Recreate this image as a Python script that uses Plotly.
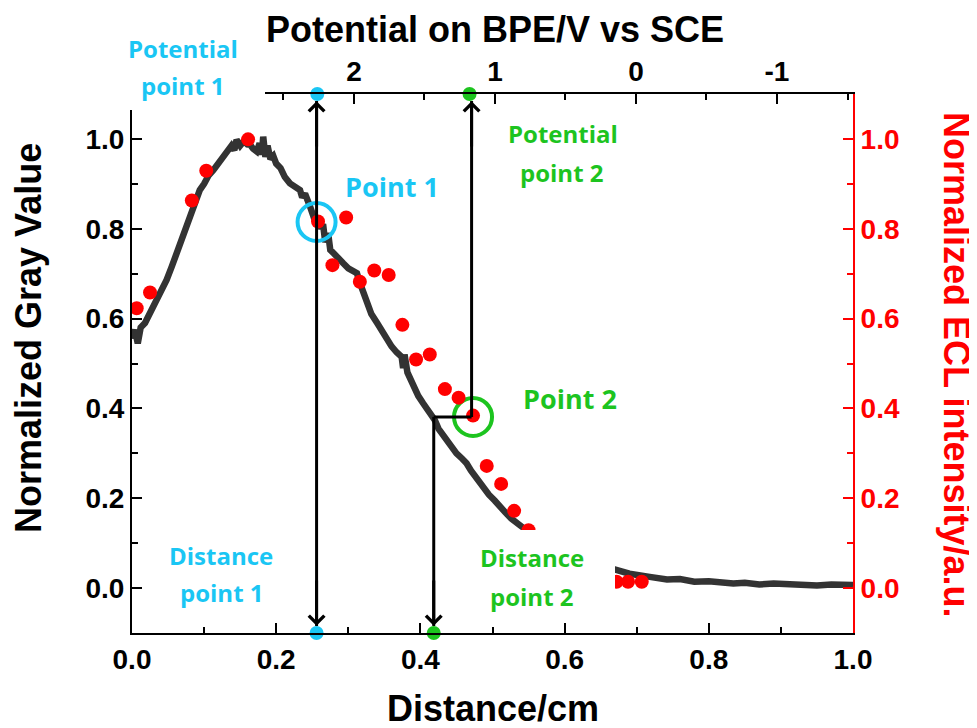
import plotly.graph_objects as go

# ---------------- data ----------------
DIST = [0.000, 0.004, 0.008, 0.012, 0.018, 0.025, 0.032, 0.040, 0.048, 0.055,
        0.062, 0.071, 0.078, 0.085, 0.094, 0.100, 0.106, 0.113, 0.120, 0.126,
        0.131, 0.138, 0.142, 0.145, 0.150, 0.155, 0.160, 0.164, 0.168, 0.173,
        0.177, 0.180, 0.182, 0.185, 0.188, 0.192, 0.196, 0.200, 0.206, 0.212,
        0.219, 0.226, 0.233, 0.236, 0.240, 0.247, 0.252, 0.255, 0.258, 0.262,
        0.265, 0.268, 0.272, 0.275, 0.280, 0.285, 0.293, 0.300, 0.306, 0.312,
        0.316, 0.320, 0.325, 0.332, 0.340, 0.347, 0.353, 0.360, 0.367, 0.374,
        0.376, 0.378, 0.382, 0.390, 0.397, 0.404, 0.412, 0.420, 0.425, 0.432,
        0.441, 0.450, 0.458, 0.464, 0.470, 0.476, 0.480, 0.487, 0.495, 0.503,
        0.510, 0.518, 0.526, 0.534, 0.542, 0.552, 0.575, 0.600, 0.630, 0.650,
        0.668, 0.672, 0.690, 0.718, 0.742, 0.760, 0.780, 0.800, 0.816, 0.834,
        0.850, 0.870, 0.890, 0.910, 0.930, 0.950, 0.970, 0.990, 1.000]
GRAY = [0.555, 0.575, 0.545, 0.580, 0.590, 0.612, 0.630, 0.660, 0.686, 0.715,
        0.745, 0.782, 0.810, 0.845, 0.886, 0.900, 0.918, 0.931, 0.945, 0.958,
        0.968, 0.985, 0.975, 0.998, 0.985, 0.995, 0.988, 0.987, 0.978, 0.972,
        0.990, 0.965, 1.005, 0.960, 0.985, 0.955, 0.962, 0.945, 0.935, 0.915,
        0.901, 0.895, 0.886, 0.870, 0.878, 0.849, 0.830, 0.812, 0.825, 0.800,
        0.810, 0.770, 0.790, 0.753, 0.745, 0.738, 0.723, 0.712, 0.705, 0.701,
        0.680, 0.662, 0.640, 0.610, 0.590, 0.570, 0.552, 0.538, 0.525, 0.515,
        0.490, 0.520, 0.480, 0.448, 0.428, 0.411, 0.392, 0.374, 0.355, 0.338,
        0.322, 0.300, 0.288, 0.278, 0.262, 0.248, 0.245, 0.226, 0.208, 0.195,
        0.181, 0.168, 0.155, 0.144, 0.135, 0.125, 0.100, 0.080, 0.060, 0.050,
        0.042, 0.040, 0.032, 0.025, 0.019, 0.020, 0.014, 0.015, 0.013, 0.010,
        0.012, 0.008, 0.010, 0.008, 0.009, 0.006, 0.008, 0.005, 0.007]

ECL_D = [0.0065, 0.025, 0.083, 0.103, 0.161, 0.258, 0.278, 0.297, 0.316, 0.336,
         0.356, 0.375, 0.394, 0.413, 0.434, 0.453, 0.473, 0.492, 0.512, 0.530,
         0.550, 0.672, 0.688, 0.707]
ECL_V = [0.623, 0.658, 0.863, 0.929, 0.999, 0.816, 0.719, 0.825, 0.682, 0.707,
         0.697, 0.586, 0.509, 0.520, 0.443, 0.424, 0.384, 0.272, 0.232, 0.172,
         0.129, 0.014, 0.014, 0.014]

POINT_D = [0.256, 0.473]          # Point 1, Point 2 (distance, cm)
POINT_V = [0.815, 0.381]          # normalized value at the points
DIST_MARK = [0.256, 0.4185]       # distance point 1, 2
POT_MARK = [2.26, 1.18]           # potential point 1, 2 (V vs SCE)

POT_RANGE = [3.574, -1.539]
X_TICKS = [0.0, 0.2, 0.4, 0.6, 0.8, 1.0]
Y_TICKS = [0.0, 0.2, 0.4, 0.6, 0.8, 1.0]
POT_TICKS = [2, 1, 0, -1]
POT_TICKTEXT = ["2", "1", "0", "-1"]

BLUE = "#1AC6F4"
GREEN = "#1DC41F"
RED = "#FF0000"
CURVE = "#333333"

OFF = 8                      # page body margin
W, H = 977 - OFF, 728 - OFF
L, T = 132 - OFF, 94 - OFF
PW, PH = 721, 539
R, B = W - L - PW, H - T - PH
YMIN, YMAX = -0.1, 1.1


def px(x):  # reference-page pixel -> paper
    return (x - OFF - L) / PW


def py(y):
    return (T + PH - (y - OFF)) / PH


fig = go.Figure()
fig.add_trace(go.Scatter(x=DIST, y=GRAY, mode="lines",
                         line=dict(color=CURVE, width=6.5), xaxis="x", yaxis="y"))
fig.add_trace(go.Scatter(x=ECL_D, y=ECL_V, mode="markers",
                         marker=dict(color=RED, size=14), xaxis="x", yaxis="y2"))
fig.add_trace(go.Scatter(x=POINT_D, y=POINT_V, mode="markers",
                         marker=dict(symbol="circle-open", size=38, color=[BLUE, GREEN],
                                     line=dict(width=4, color=[BLUE, GREEN])),
                         xaxis="x", yaxis="y"))
fig.add_trace(go.Scatter(x=DIST_MARK, y=[YMIN, YMIN], mode="markers", cliponaxis=False,
                         marker=dict(size=14, color=[BLUE, GREEN]), xaxis="x", yaxis="y"))
fig.add_trace(go.Scatter(x=POT_MARK, y=[YMAX, YMAX], mode="markers", cliponaxis=False,
                         marker=dict(size=14, color=[BLUE, GREEN]), xaxis="x2", yaxis="y"))

tickfont = dict(family="Liberation Sans", size=28, color="black", weight="bold")
axcommon = dict(showline=True, linewidth=2, ticks="inside", ticklen=10, tickwidth=2,
                showgrid=False, zeroline=False, mirror=False)

fig.update_layout(
    width=W, height=H, margin=dict(l=L, r=R, t=T, b=B),
    paper_bgcolor="white", plot_bgcolor="white", showlegend=False,
    xaxis=dict(range=[0, 1], tickvals=X_TICKS, tickformat=".1f", linecolor="black",
               tickcolor="black", tickfont=tickfont,
               minor=dict(dtick=0.1, ticks="inside", ticklen=6, tickwidth=2, tickcolor="black"),
               anchor="y", **axcommon),
    xaxis2=dict(range=POT_RANGE, tickvals=POT_TICKS, ticktext=POT_TICKTEXT,
                overlaying="x", side="top", anchor="y",
                linecolor="black", tickcolor="black", tickfont=tickfont,
                minor=dict(dtick=0.5, ticks="inside", ticklen=6, tickwidth=2, tickcolor="black"),
                **axcommon),
    yaxis=dict(range=[YMIN, YMAX], tickvals=Y_TICKS, tickformat=".1f", linecolor="black",
               tickcolor="black", tickfont=tickfont,
               minor=dict(dtick=0.1, ticks="inside", ticklen=6, tickwidth=2, tickcolor="black"),
               anchor="x", **axcommon),
    yaxis2=dict(range=[YMIN, YMAX], tickvals=Y_TICKS, tickformat=".1f", overlaying="y",
                side="right", anchor="x", linecolor=RED, tickcolor=RED,
                tickfont=dict(tickfont, color=RED),
                minor=dict(dtick=0.1, ticks="inside", ticklen=6, tickwidth=2, tickcolor=RED),
                **axcommon),
)

# white label boxes that mask part of the frame / data
fig.add_shape(type="rect", xref="paper", yref="paper", x0=px(100), x1=px(265),
              y0=py(110), y1=py(16), fillcolor="white", line=dict(width=0), layer="above")
fig.add_shape(type="rect", xref="paper", yref="paper", x0=px(450), x1=px(615),
              y0=py(620), y1=py(530), fillcolor="white", line=dict(width=0), layer="above")

# guide lines (stop short of the axis dots)
gap = 7.0 / PH * (YMAX - YMIN)
lines = [
    (DIST_MARK[0], YMIN + gap, DIST_MARK[0], YMAX - gap),
    (POINT_D[1] - 0.002, POINT_V[1], POINT_D[1] - 0.002, YMAX - gap),
    (DIST_MARK[1], POINT_V[1], POINT_D[1] - 0.002, POINT_V[1]),
    (DIST_MARK[1], YMIN + gap, DIST_MARK[1], POINT_V[1]),
]
for (x0, y0, x1, y1) in lines:
    fig.add_shape(type="line", xref="x", yref="y", x0=x0, x1=x1, y0=y0, y1=y1,
                  line=dict(color="black", width=3), layer="above")

heads = [
    (DIST_MARK[0], YMAX - 0.0005, DIST_MARK[0], YMAX - 0.12),
    (DIST_MARK[0], YMIN + 0.0005, DIST_MARK[0], YMIN + 0.12),
    (POINT_D[1] - 0.002, YMAX - 0.0005, POINT_D[1] - 0.002, YMAX - 0.12),
    (DIST_MARK[1], YMIN + 0.0005, DIST_MARK[1], YMIN + 0.12),
]
for (x, y, ax, ay) in heads:
    fig.add_annotation(x=x, y=y, ax=ax, ay=ay, xref="x", yref="y", axref="x", ayref="y",
                       text="", showarrow=True, arrowhead=4, arrowsize=1, arrowwidth=3,
                       arrowcolor="black", standoff=7)

lab_font = dict(family="Open Sans", size=24, weight="bold")
labels = [
    ("Potential", 183, 48, BLUE), ("point 1", 183, 86, BLUE),
    ("Potential", 563, 134, GREEN), ("point 2", 562, 172, GREEN),
    ("Distance", 221, 555, BLUE), ("point 1", 222, 592, BLUE),
    ("Distance", 532, 557, GREEN), ("point 2", 532, 596, GREEN),
]
for (t, x, y, c) in labels:
    fig.add_annotation(text=t, x=px(x), y=py(y), xref="paper", yref="paper",
                       xanchor="center", yanchor="middle", showarrow=False,
                       font=dict(lab_font, color=c))
for (t, x, y, c) in [("Point 1", 392, 186, BLUE), ("Point 2", 570, 398, GREEN)]:
    fig.add_annotation(text=t, x=px(x), y=py(y), xref="paper", yref="paper",
                       xanchor="center", yanchor="middle", showarrow=False,
                       font=dict(family="Open Sans", size=27, weight="bold", color=c))

title_font = dict(family="Liberation Sans", size=36, weight="bold")
titles = [
    ("Potential on BPE/V vs SCE", 495, 30, 0, "black"),
    ("Distance/cm", 493, 708, 0, "black"),
    ("Normalized Gray Value", 28, 338, -90, "black"),
    ("Normalized ECL intensity/a.u.", 957, 364, 90, RED),
]
for (t, x, y, ang, c) in titles:
    fig.add_annotation(text=t, x=px(x), y=py(y), xref="paper", yref="paper",
                       xanchor="center", yanchor="middle", showarrow=False,
                       textangle=ang, font=dict(title_font, color=c))

fig.write_html("out.html")
